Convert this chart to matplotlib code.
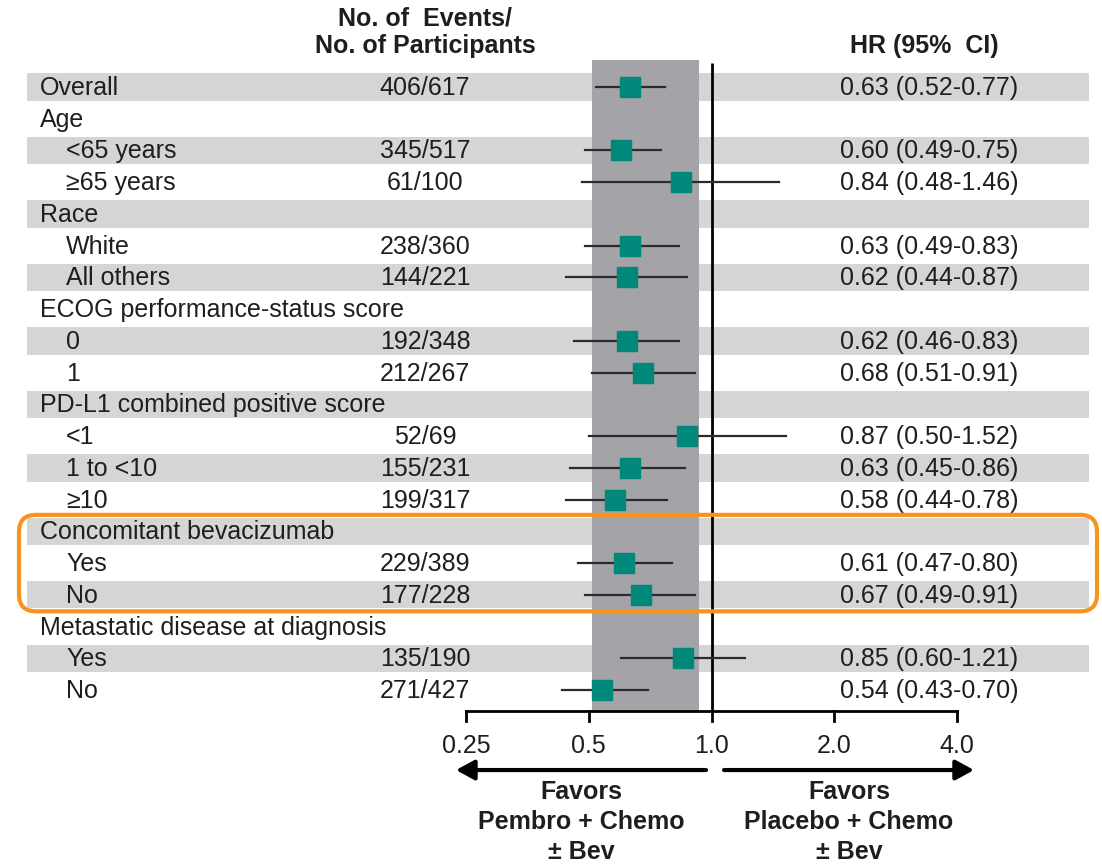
import matplotlib
matplotlib.use("Agg")
import matplotlib.pyplot as plt
from matplotlib.patches import FancyBboxPatch

plt.rcParams['font.family'] = ['Liberation Sans', 'DejaVu Sans']

# subgroup table
labels = ["Overall", "Age", "<65 years", "≥65 years", "Race", "White", "All others",
          "ECOG performance-status score", "0", "1",
          "PD-L1 combined positive score", "<1", "1 to <10", "≥10",
          "Concomitant bevacizumab", "Yes", "No",
          "Metastatic disease at diagnosis", "Yes", "No"]
indent = [0, 0, 1, 1, 0, 1, 1, 0, 1, 1, 0, 1, 1, 1, 0, 1, 1, 0, 1, 1]
events = ["406/617", "", "345/517", "61/100", "", "238/360", "144/221", "",
          "192/348", "212/267", "", "52/69", "155/231", "199/317", "",
          "229/389", "177/228", "", "135/190", "271/427"]
hr = [0.63, None, 0.60, 0.84, None, 0.63, 0.62, None, 0.62, 0.68, None,
      0.87, 0.63, 0.58, None, 0.61, 0.67, None, 0.85, 0.54]
lo = [0.52, None, 0.49, 0.48, None, 0.49, 0.44, None, 0.46, 0.51, None,
      0.50, 0.45, 0.44, None, 0.47, 0.49, None, 0.60, 0.43]
hi = [0.77, None, 0.75, 1.46, None, 0.83, 0.87, None, 0.83, 0.91, None,
      1.52, 0.86, 0.78, None, 0.80, 0.91, None, 1.21, 0.70]

ticks = [0.25, 0.5, 1.0, 2.0, 4.0]
tick_labels = ["0.25", "0.5", "1.0", "2.0", "4.0"]
band_lo, band_hi = 0.51, 0.93
boxed_rows = (14, 16)

W, H = 1102, 865
row0, row_h = 87, 31.74           # pixel centre of first row, row pitch
x_min_px, x_max_px = 466, 957     # where 0.25 and 4.0 sit
ppd = (x_max_px - x_min_px) / 4   # pixels per doubling

fig = plt.figure(figsize=(W / 100, H / 100), dpi=100)

ylim = ((H - row0) / row_h, -row0 / row_h)

# layout axes: x in pixels, y in rows
tab = fig.add_axes([0, 0, 1, 1])
tab.set_xlim(0, W)
tab.set_ylim(*ylim)
tab.axis('off')

# forest axes: log HR on x, same rows on y
ax = fig.add_axes([0, 0, 1, 1], sharey=tab)
ax.set_xscale('log')
ax.set_xlim(0.25 * 2 ** (-x_min_px / ppd), 4.0 * 2 ** ((W - x_max_px) / ppd))
ax.set_ylim(*ylim)
ax.axis('off')
ax.patch.set_alpha(0)

txt = '#1e1e1e'
fs = 18
n = len(labels)
y_axis = (711 - row0) / row_h

# alternating row stripes
for i in range(0, n, 2):
    tab.fill_between([27, 1089], i - 0.43, i + 0.43, color='#d5d5d5', lw=0, zorder=1)

# shaded band and line of no effect
ax.fill_between([band_lo, band_hi], -0.85, y_axis, color='#a4a3a8', lw=0, zorder=2)
ax.plot([1.0, 1.0], [-0.76, y_axis], color='black', lw=2, zorder=3, solid_capstyle='butt')

for i in range(n):
    x_lab = 66 if indent[i] else 40
    tab.text(x_lab, i + 0.03, labels[i], fontsize=fs, color=txt, ha='left', va='center', zorder=5)
    if hr[i] is None:
        continue
    tab.text(425, i + 0.03, events[i], fontsize=fs, color=txt, ha='center', va='center', zorder=5)
    tab.text(1018, i + 0.03, f"{hr[i]:.2f} ({lo[i]:.2f}-{hi[i]:.2f})", fontsize=fs,
             color=txt, ha='right', va='center', zorder=5)
    ax.plot([lo[i], hi[i]], [i, i], color='#2b2b2b', lw=1.6, zorder=4)
    ax.plot(hr[i], i, marker='s', ms=14.5, color='#00897b', mec='#00897b', zorder=5)

# headers
tab.text(425, -2.17, "No. of  Events/", fontsize=fs, fontweight='bold', color=txt,
         ha='center', va='center')
tab.text(425, -1.29, "No. of Participants", fontsize=fs, fontweight='bold', color=txt,
         ha='center', va='center')
tab.text(924, -1.29, "HR (95%  CI)", fontsize=fs, fontweight='bold', color=txt,
         ha='center', va='center')

# x axis with downward ticks
ax.plot([ticks[0], ticks[-1]], [y_axis, y_axis], color='black', lw=2, zorder=3,
        solid_capstyle='projecting')
for t, s in zip(ticks, tick_labels):
    ax.plot([t, t], [y_axis, y_axis + 0.32], color='black', lw=2, zorder=3)
    ax.text(t, 20.76, s, fontsize=fs, color=txt, ha='center', va='center')

# direction arrows
y_arr = 21.52
arr = dict(arrowstyle='-|>,head_length=0.55,head_width=0.3', lw=3, color='black',
           mutation_scale=20, shrinkA=0, shrinkB=0)
tab.annotate('', xy=(456, y_arr), xytext=(706, y_arr), arrowprops=arr)
tab.annotate('', xy=(974, y_arr), xytext=(724, y_arr), arrowprops=arr)

tab.text(581, 23.17, "Favors\nPembro + Chemo\n± Bev", fontsize=fs, fontweight='bold',
         color=txt, ha='center', va='center', linespacing=1.32)
tab.text(849, 23.17, "Favors\nPlacebo + Chemo\n± Bev", fontsize=fs, fontweight='bold',
         color=txt, ha='center', va='center', linespacing=1.32)

# highlight box around the bevacizumab subgroup
r0, r1 = boxed_rows
box = FancyBboxPatch((19, r0 - 0.52), 1097 - 19, (r1 - r0) + 1.04,
                     boxstyle='round,pad=0,rounding_size=17',
                     mutation_aspect=1 / row_h, fill=False, ec='#f7941d', lw=3,
                     transform=tab.transData, zorder=6)
ax.add_patch(box)

fig.savefig('out.png', dpi=100)
